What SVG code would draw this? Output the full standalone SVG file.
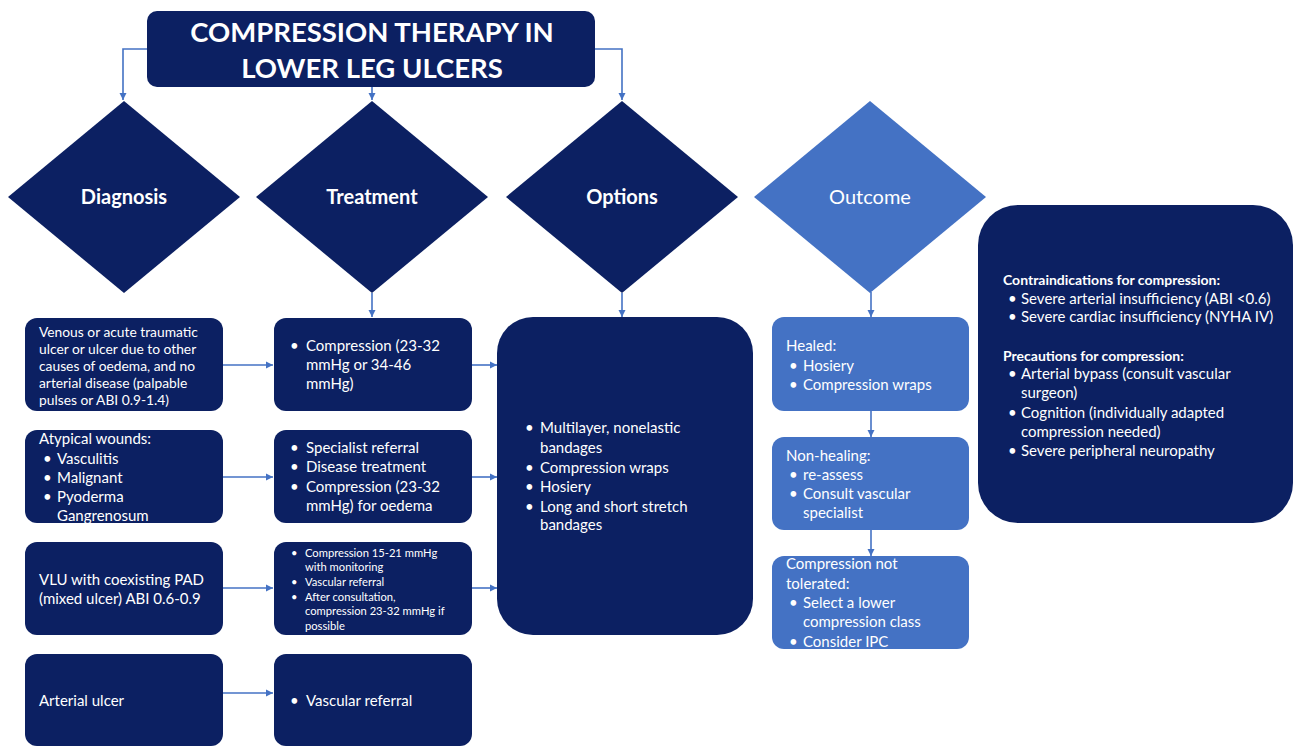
<svg xmlns="http://www.w3.org/2000/svg" width="1294" height="747" viewBox="0 0 1294 747">
<defs>
<marker id="ah" markerUnits="userSpaceOnUse" markerWidth="8" markerHeight="8" refX="7" refY="4" orient="auto">
<path d="M0,0.5 L7,4 L0,7.5 z" fill="#4472c4"/>
</marker>
<style>
.nav{fill:#0c2062}
.mid{fill:#4472c4}
.t{font-family:Lato,"Liberation Sans",sans-serif;fill:#ffffff;font-size:15px}
.b{font-weight:bold}
.h{font-size:14px}
.s{font-size:13.8px}
.xs{font-size:11.2px}
.d{font-size:20px;text-anchor:middle}
.ti{font-size:27.5px;font-weight:bold;text-anchor:middle}
.c{stroke:#4472c4;stroke-width:1.6;fill:none;marker-end:url(#ah)}
</style>
</defs>
<rect width="1294" height="747" fill="#ffffff"/>

<g id="connectors">
<path class="c" d="M148,49 H123 V100"/>
<path class="c" d="M372,87 V100"/>
<path class="c" d="M595,49 H622 V100"/>
<path class="c" d="M372,293 V317"/>
<path class="c" d="M622,293 V317"/>
<path class="c" d="M871,292 V317"/>
<path class="c" d="M223,365 H273"/>
<path class="c" d="M223,477 H273"/>
<path class="c" d="M223,588 H273"/>
<path class="c" d="M223,693 H273"/>
<path class="c" d="M472,365 H497"/>
<path class="c" d="M472,477 H497"/>
<path class="c" d="M472,588 H497"/>
<path class="c" d="M871,411 V437"/>
<path class="c" d="M871,530 V556"/>
</g>

<g id="title">
<rect class="nav" x="147" y="11" width="448" height="76" rx="10"/>
<text class="t ti" x="372" y="42">COMPRESSION THERAPY IN</text>
<text class="t ti" x="372" y="78">LOWER LEG ULCERS</text>
</g>

<g id="diagnosis">
<polygon class="nav" points="124,101 240,197 124,293 8,197"/>
<text class="t d b" x="124" y="204">Diagnosis</text>
</g>
<g id="treatment">
<polygon class="nav" points="372,101 488,197 372,293 256,197"/>
<text class="t d b" x="372" y="204">Treatment</text>
</g>
<g id="options">
<polygon class="nav" points="622,101 738,197 622,293 506,197"/>
<text class="t d b" x="622" y="204">Options</text>
</g>
<g id="outcome">
<polygon class="mid" points="870,101 986,197 870,293 754,197"/>
<text class="t d" x="870" y="204">Outcome</text>
</g>

<g id="diag-venous">
<rect class="nav" x="25" y="318" width="198" height="93" rx="12"/>
<text class="t s" x="39" y="337">Venous or acute traumatic</text>
<text class="t s" x="39" y="354">ulcer or ulcer due to other</text>
<text class="t s" x="39" y="371">causes of oedema, and no</text>
<text class="t s" x="39" y="388">arterial disease (palpable</text>
<text class="t s" x="39" y="405">pulses or ABI 0.9-1.4)</text>
</g>
<g id="diag-atypical">
<rect class="nav" x="25" y="430" width="198" height="93" rx="12"/>
<text class="t" x="39" y="444">Atypical wounds:</text>
<text class="t" x="43" y="464">•</text><text class="t" x="57" y="464">Vasculitis</text>
<text class="t" x="43" y="483">•</text><text class="t" x="57" y="483">Malignant</text>
<text class="t" x="43" y="502">•</text><text class="t" x="57" y="502">Pyoderma</text>
<text class="t" x="57" y="521">Gangrenosum</text>
</g>
<g id="diag-vlu">
<rect class="nav" x="25" y="542" width="198" height="93" rx="12"/>
<text class="t" x="39" y="585">VLU with coexisting PAD</text>
<text class="t" x="39" y="604">(mixed ulcer) ABI 0.6-0.9</text>
</g>
<g id="diag-arterial">
<rect class="nav" x="25" y="654" width="198" height="92" rx="12"/>
<text class="t" x="39" y="706">Arterial ulcer</text>
</g>

<g id="treat-1">
<rect class="nav" x="274" y="318" width="198" height="93" rx="12"/>
<text class="t" x="290" y="351">•</text><text class="t" x="306" y="351">Compression (23-32</text>
<text class="t" x="306" y="370">mmHg or 34-46</text>
<text class="t" x="306" y="389">mmHg)</text>
</g>
<g id="treat-2">
<rect class="nav" x="274" y="430" width="198" height="93" rx="12"/>
<text class="t" x="290" y="453">•</text><text class="t" x="306" y="453">Specialist referral</text>
<text class="t" x="290" y="472">•</text><text class="t" x="306" y="472">Disease treatment</text>
<text class="t" x="290" y="492">•</text><text class="t" x="306" y="492">Compression (23-32</text>
<text class="t" x="306" y="511">mmHg) for oedema</text>
</g>
<g id="treat-3">
<rect class="nav" x="274" y="542" width="198" height="93" rx="12"/>
<text class="t xs" x="291" y="557">•</text><text class="t xs" x="305" y="557">Compression 15-21 mmHg</text>
<text class="t xs" x="305" y="571">with monitoring</text>
<text class="t xs" x="291" y="586">•</text><text class="t xs" x="305" y="586">Vascular referral</text>
<text class="t xs" x="291" y="601">•</text><text class="t xs" x="305" y="601">After consultation,</text>
<text class="t xs" x="305" y="615">compression 23-32 mmHg if</text>
<text class="t xs" x="305" y="630">possible</text>
</g>
<g id="treat-4">
<rect class="nav" x="274" y="654" width="198" height="92" rx="12"/>
<text class="t" x="290" y="706">•</text><text class="t" x="306" y="706">Vascular referral</text>
</g>

<g id="options-box">
<rect class="nav" x="497" y="317" width="256" height="318" rx="36"/>
<text class="t" x="525" y="433">•</text><text class="t" x="540" y="433">Multilayer, nonelastic</text>
<text class="t" x="540" y="453">bandages</text>
<text class="t" x="525" y="473">•</text><text class="t" x="540" y="473">Compression wraps</text>
<text class="t" x="525" y="492">•</text><text class="t" x="540" y="492">Hosiery</text>
<text class="t" x="525" y="512">•</text><text class="t" x="540" y="512">Long and short stretch</text>
<text class="t" x="540" y="530">bandages</text>
</g>

<g id="outcome-healed">
<rect class="mid" x="772" y="317" width="197" height="94" rx="12"/>
<text class="t" x="786" y="351">Healed:</text>
<text class="t" x="789" y="371">•</text><text class="t" x="803" y="371">Hosiery</text>
<text class="t" x="789" y="390">•</text><text class="t" x="803" y="390">Compression wraps</text>
</g>
<g id="outcome-nonhealing">
<rect class="mid" x="772" y="437" width="197" height="93" rx="12"/>
<text class="t" x="786" y="461">Non-healing:</text>
<text class="t" x="789" y="480">•</text><text class="t" x="803" y="480">re-assess</text>
<text class="t" x="789" y="499">•</text><text class="t" x="803" y="499">Consult vascular</text>
<text class="t" x="803" y="518">specialist</text>
</g>
<g id="outcome-nottolerated">
<rect class="mid" x="772" y="556" width="197" height="93" rx="12"/>
<text class="t" x="786" y="569">Compression not</text>
<text class="t" x="786" y="589">tolerated:</text>
<text class="t" x="789" y="608">•</text><text class="t" x="803" y="608">Select a lower</text>
<text class="t" x="803" y="627">compression class</text>
<text class="t" x="789" y="647">•</text><text class="t" x="803" y="647">Consider IPC</text>
</g>

<g id="contraindications">
<rect class="nav" x="978" y="205" width="315" height="318" rx="40"/>
<text class="t b h" x="1003" y="285">Contraindications for compression:</text>
<text class="t" x="1008" y="304">•</text><text class="t" x="1021" y="304">Severe arterial insufficiency (ABI &lt;0.6)</text>
<text class="t" x="1008" y="322">•</text><text class="t" x="1021" y="322">Severe cardiac insufficiency (NYHA IV)</text>
<text class="t b h" x="1003" y="361">Precautions for compression:</text>
<text class="t" x="1008" y="379">•</text><text class="t" x="1021" y="379">Arterial bypass (consult vascular</text>
<text class="t" x="1021" y="398">surgeon)</text>
<text class="t" x="1008" y="418">•</text><text class="t" x="1021" y="418">Cognition (individually adapted</text>
<text class="t" x="1021" y="437">compression needed)</text>
<text class="t" x="1008" y="456">•</text><text class="t" x="1021" y="456">Severe peripheral neuropathy</text>
</g>
</svg>
